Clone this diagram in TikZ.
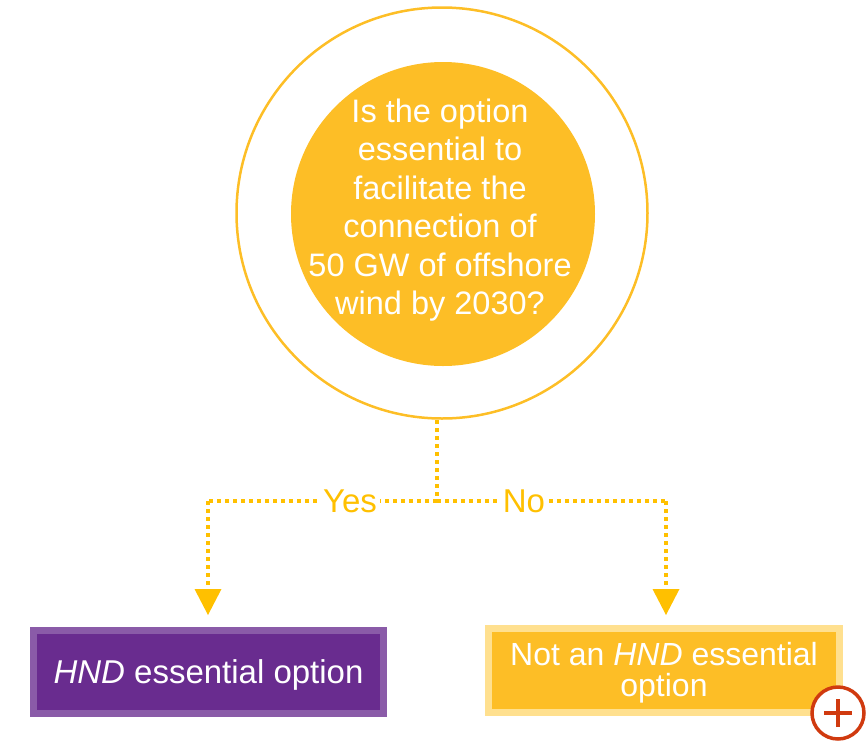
\documentclass[tikz,border=0pt]{standalone}
\usepackage{fontspec}
\setmainfont{Liberation Sans}
\usetikzlibrary{arrows.meta}
\definecolor{gold}{HTML}{FDBE26}
\definecolor{dotgold}{HTML}{FFC000}
\definecolor{purpin}{HTML}{692C8F}
\definecolor{purpout}{HTML}{8A5BA8}
\definecolor{goldlight}{HTML}{FFE08F}
\definecolor{plusred}{HTML}{D03A0F}
\begin{document}
\begin{tikzpicture}[x=1pt,y=-1pt,
  conn/.style={draw=dotgold,line width=4pt,dash pattern=on 4pt off 4pt},
  lbl/.style={fill=white,text=dotgold,font=\fontsize{33}{34}\selectfont,inner sep=3pt},
  boxtext/.style={text=white,font=\fontsize{33}{33}\selectfont,align=center}]
\useasboundingbox (0,0) rectangle (868,740);
% circles
\node[circle,draw=gold,line width=2.5pt,minimum size=411pt,inner sep=0pt] (outer) at (442,213) {};
\node[circle,fill=gold,minimum size=304pt,inner sep=0pt] (inner) at (443,214) {};
\node[boxtext,font=\fontsize{32.5}{38.5}\selectfont] (q) at (440,210) {Is the option\\essential to\\facilitate the\\connection of\\50 GW of offshore\\wind by 2030?};
% boxes
\node[draw=purpout,fill=purpin,line width=7pt,minimum width=350pt,minimum height=83pt,inner sep=0pt] (yes) at (208.5,672) {};
\node[boxtext] at (208.5,675) {\textit{HND} essential option};
\node[draw=goldlight,fill=gold,line width=7pt,minimum width=351pt,minimum height=84pt,inner sep=0pt] (no) at (664,670.5) {};
\node[boxtext,font=\fontsize{32}{31}\selectfont] at (664,673) {Not an \textit{HND} essential\\option};
% connectors
\coordinate (top) at (437,420);
\coordinate (split) at (437,501);
\coordinate (lc) at (208,501);
\coordinate (rc) at (666,501);
\draw[conn] (top) -- (split);
\draw[conn] (split) -- (lc);
\draw[conn] (split) -- (rc);
\draw[conn] (lc) -- (208,590);
\draw[conn] (rc) -- (666,590);
\fill[dotgold] (194.5,589) -- (221.5,589) -- (208,615) -- cycle;
\fill[dotgold] (652.5,589) -- (679.5,589) -- (666,615) -- cycle;
\node[lbl] at (350,501) {Yes};
\node[lbl] at (524,501) {No};
% plus badge
\node[circle,draw=plusred,fill=white,line width=3.5pt,minimum size=52pt,inner sep=0pt] (plus) at (838,713) {};
\draw[plusred,line width=4.5pt] ([xshift=-14pt]plus.center) -- ([xshift=14pt]plus.center);
\draw[plusred,line width=4.5pt] ([yshift=-14pt]plus.center) -- ([yshift=14pt]plus.center);
\end{tikzpicture}
\end{document}
